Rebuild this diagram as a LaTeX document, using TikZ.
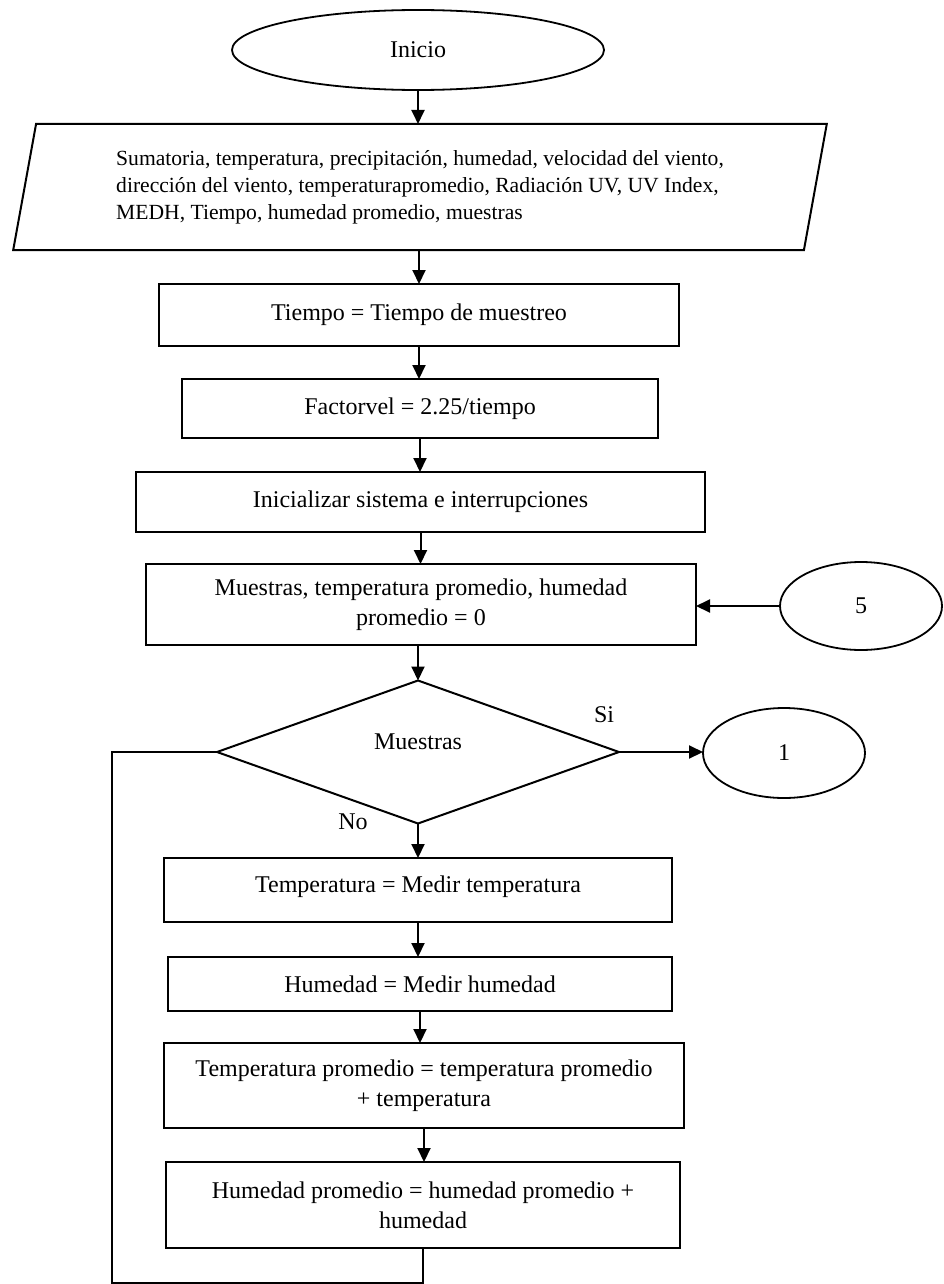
\documentclass[tikz,border=0pt]{standalone}
\usepackage{fontspec}
\setmainfont{Liberation Serif}
\usetikzlibrary{shapes.geometric,arrows.meta}
\begin{document}
\begin{tikzpicture}[x=0.5pt,y=-0.5pt,
  every node/.style={inner sep=0pt, outer sep=0pt},
  base/.style={draw=black, line width=1pt, font=\fontsize{12}{15}\selectfont, align=center},
  procbox/.style={base, rectangle, line width=1.1pt},
  terminal/.style={base, ellipse, line width=0.9pt},
  connector/.style={base, ellipse, line width=0.9pt},
  decision/.style={base, diamond},
  iobox/.style={base, trapezium, trapezium left angle=76.2, trapezium right angle=103.8,
    trapezium stretches=true, font=\fontsize{10.8}{13.5}\selectfont, align=left},
  flow/.style={line width=1pt, -{Triangle[length=7pt,width=6.5pt]}},
  link/.style={line width=1pt},
  tag/.style={font=\fontsize{12}{15}\selectfont}
]
\useasboundingbox (0,0) rectangle (943,1284);

% start and input data
\node[terminal, minimum width=186pt, minimum height=40pt] (ini) at (418,50) {Inicio};
\node[iobox, minimum width=408pt, minimum height=63pt] (dat) at (420,187)
  {Sumatoria, temperatura, precipitación, humedad, velocidad del viento,\\
   dirección del viento, temperaturapromedio, Radiación UV, UV Index,\\
   MEDH, Tiempo, humedad promedio, muestras};

% initialisation steps
\node[procbox, minimum width=260pt, minimum height=31pt] (b1) at (419,315) {Tiempo = Tiempo de muestreo};
\node[procbox, minimum width=238pt, minimum height=29.5pt] (b2) at (420,408.5) {Factorvel = 2.25/tiempo};
\node[procbox, minimum width=284.5pt, minimum height=30pt] (b3) at (420.5,502) {Inicializar sistema e interrupciones};
\node[procbox, minimum width=275pt, minimum height=40.5pt] (b4) at (421,604.5)
  {Muestras, temperatura promedio, humedad\\promedio = 0};
\node[connector, minimum width=81pt, minimum height=44pt] (c5) at (861,606) {5};

% sample loop
\node[decision, minimum width=201pt, minimum height=71.5pt] (q) at (418,752) {\raisebox{10pt}{Muestras}};
\node[connector, minimum width=81pt, minimum height=45pt] (c1) at (784,753) {1};
\node[tag] (si) at (604,715) {Si};
\node[tag] (no) at (353,822) {No};

\node[procbox, minimum width=254pt, minimum height=32pt] (b5) at (418,890) {\raisebox{6pt}{Temperatura = Medir temperatura}};
\node[procbox, minimum width=252pt, minimum height=27pt] (b6) at (420,984) {Humedad = Medir humedad};
\node[procbox, minimum width=260pt, minimum height=42.5pt] (b7) at (424,1085.5)
  {Temperatura promedio = temperatura promedio\\+ temperatura};
\node[procbox, minimum width=257pt, minimum height=43pt] (b8) at (423,1205)
  {Humedad promedio = humedad promedio +\\humedad};

% connectors
\draw[flow] (ini.south) -- (ini.south |- dat.north);
\draw[flow] (b1.north |- dat.south) -- (b1.north);
\draw[flow] (b1.south) -- (b1.south |- b2.north);
\draw[flow] (b2.south) -- (b2.south |- b3.north);
\draw[flow] (b3.south) -- (b3.south |- b4.north);
\draw[flow] (q.north |- b4.south) -- (q.north);
\draw[flow] (c5.west) -- (c5.west -| b4.east);
\draw[flow] (q.east) -- (q.east -| c1.west);
\draw[flow] (q.south) -- (q.south |- b5.north);
\draw[flow] (b5.south) -- (b5.south |- b6.north);
\draw[flow] (b6.south) -- (b6.south |- b7.north);
\draw[flow] (b7.south) -- (b7.south |- b8.north);

\coordinate (loop) at (112,1283);
\draw[link] (b8.south) |- (loop) |- (q.west);
\end{tikzpicture}
\end{document}
